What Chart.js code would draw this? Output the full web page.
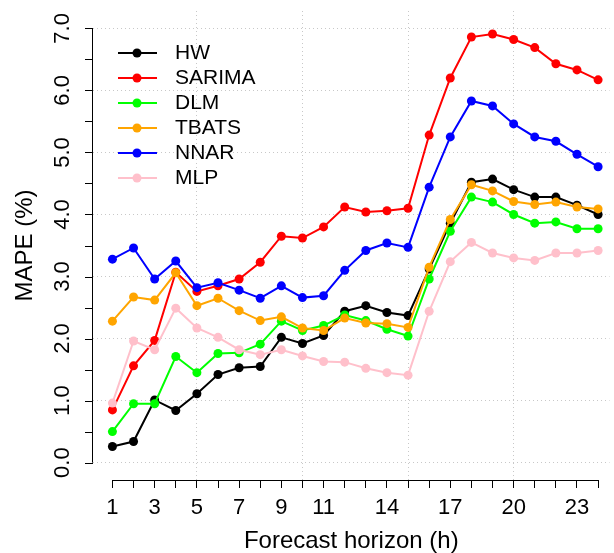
<!DOCTYPE html>
<html>
<head>
<meta charset="utf-8">
<script src="https://cdn.jsdelivr.net/npm/chart.js@4/dist/chart.umd.min.js"></script>
<style>
    body { margin: 0; background: #ffffff; }
</style>
</head>
<body>
<canvas id="mapeChart" width="614" height="553"></canvas>
<script>
"use strict";

// Data (MAPE in %, per forecast horizon)
const horizon = [1, 2, 3, 4, 5, 6, 7, 8, 9, 10, 11, 12, 13, 14, 15, 16, 17, 18, 19, 20, 21, 22, 23, 24];
const hw     = [0.26, 0.34, 1.01, 0.84, 1.11, 1.42, 1.53, 1.55, 2.02, 1.92, 2.05, 2.44, 2.53, 2.42, 2.37, 3.12, 3.86, 4.52, 4.57, 4.40, 4.28, 4.28, 4.15, 4.00];
const sarima = [0.85, 1.56, 1.97, 3.07, 2.76, 2.85, 2.96, 3.23, 3.65, 3.62, 3.80, 4.12, 4.04, 4.06, 4.10, 5.28, 6.20, 6.86, 6.91, 6.82, 6.69, 6.43, 6.33, 6.17];
const dlm    = [0.50, 0.95, 0.95, 1.71, 1.45, 1.76, 1.77, 1.91, 2.28, 2.13, 2.21, 2.38, 2.29, 2.15, 2.04, 2.96, 3.73, 4.28, 4.20, 4.00, 3.86, 3.88, 3.77, 3.77];
const tbats  = [2.28, 2.67, 2.62, 3.06, 2.53, 2.65, 2.45, 2.29, 2.35, 2.17, 2.13, 2.33, 2.25, 2.24, 2.18, 3.15, 3.92, 4.48, 4.38, 4.21, 4.16, 4.20, 4.12, 4.09];
const nnar   = [3.28, 3.46, 2.96, 3.25, 2.82, 2.90, 2.78, 2.65, 2.85, 2.66, 2.69, 3.10, 3.42, 3.54, 3.47, 4.44, 5.25, 5.83, 5.75, 5.46, 5.25, 5.18, 4.97, 4.77];
const mlp    = [0.96, 1.96, 1.82, 2.49, 2.17, 2.02, 1.82, 1.74, 1.82, 1.72, 1.63, 1.62, 1.52, 1.45, 1.41, 2.44, 3.24, 3.55, 3.38, 3.30, 3.26, 3.38, 3.38, 3.42];

const seriesNames  = ["HW", "SARIMA", "DLM", "TBATS", "NNAR", "MLP"];
const seriesColors = ["#000000", "#ff0000", "#00ff00", "#ffa500", "#0000ff", "#ffc0cb"];
const seriesValues = [hw, sarima, dlm, tbats, nnar, mlp];

const xTickLabels = ["1", "3", "5", "7", "9", "11", "14", "17", "20", "23"];
const yTickLabels = ["0.0", "1.0", "2.0", "3.0", "4.0", "5.0", "6.0", "7.0"];

const FONT = "'Liberation Sans', Arial, Helvetica, sans-serif";
const TICK_SIZE = 22;
const TITLE_SIZE = 24;
const LEGEND_SIZE = 21;

// Bygg dataset
const datasets = seriesNames.map((name, i) => ({
    label: name,
    data: horizon.map((h, j) => ({ x: h, y: seriesValues[i][j] })),
    borderColor: seriesColors[i],
    backgroundColor: seriesColors[i],
    borderWidth: 2,
    pointRadius: 4.5,
    pointBorderWidth: 0,
    pointHoverRadius: 4.5,
    tension: 0,
    order: seriesNames.length - i // senare serier ritas ovanpå
}));

// R-style axes: y axis with rotated labels, x axis line, legend
const baseAxes = {
    id: "baseAxes",
    afterDatasetsDraw(chart) {
        const c = chart.ctx;
        const x = chart.scales.x;
        const y = chart.scales.y;
        const left = chart.chartArea.left;
        const bottom = chart.chartArea.bottom;

        c.save();
        c.strokeStyle = "#000000";
        c.fillStyle = "#000000";
        c.lineWidth = 1;

        // x axis line
        c.beginPath();
        c.moveTo(x.getPixelForValue(horizon[0]), bottom + 0.5);
        c.lineTo(x.getPixelForValue(horizon[horizon.length - 1]), bottom + 0.5);
        c.stroke();

        // y axis line + ticks every 0.5
        const y0 = y.getPixelForValue(0);
        const y7 = y.getPixelForValue(7);
        c.beginPath();
        c.moveTo(left - 0.5, y0);
        c.lineTo(left - 0.5, y7);
        for (let v = 0; v <= 7; v += 0.5) {
            const py = Math.round(y.getPixelForValue(v)) + 0.5;
            c.moveTo(left, py);
            c.lineTo(left - 8, py);
        }
        c.stroke();

        // y tick labels, rotated
        c.font = TICK_SIZE + "px " + FONT;
        c.textAlign = "center";
        c.textBaseline = "middle";
        yTickLabels.forEach((lab, i) => {
            c.save();
            c.translate(63, y.getPixelForValue(i));
            c.rotate(-Math.PI / 2);
            c.fillText(lab, 0, 0);
            c.restore();
        });

        // y axis title
        c.font = TITLE_SIZE + "px " + FONT;
        c.save();
        c.translate(25, (y0 + y7) / 2);
        c.rotate(-Math.PI / 2);
        c.fillText("MAPE (%)", 0, 0);
        c.restore();

        // legend
        c.font = LEGEND_SIZE + "px " + FONT;
        c.textAlign = "left";
        seriesNames.forEach((name, i) => {
            const ly = 53 + 25 * i;
            c.strokeStyle = seriesColors[i];
            c.fillStyle = seriesColors[i];
            c.lineWidth = 2;
            c.beginPath();
            c.moveTo(118, ly);
            c.lineTo(157, ly);
            c.stroke();
            c.beginPath();
            c.arc(137, ly, 4.5, 0, Math.PI * 2);
            c.fill();
            c.fillStyle = "#000000";
            c.fillText(name, 175, ly);
        });
        c.restore();
    }
};

const ctx = document.getElementById("mapeChart");

new Chart(ctx, {
    type: "line",
    data: { datasets: datasets },
    plugins: [baseAxes],
    options: {
        responsive: false,
        animation: false,
        devicePixelRatio: 1,
        layout: { padding: { top: 11, right: 0, left: 0, bottom: 0 } },
        plugins: {
            legend: { display: false },
            tooltip: { enabled: false }
        },
        scales: {
            x: {
                type: "linear",
                min: 0.08,
                max: 24.54,
                afterBuildTicks: (scale) => {
                    scale.ticks = horizon.map(v => ({ value: v }));
                },
                afterFit: (scale) => { scale.height = 73; },
                ticks: {
                    autoSkip: false,
                    maxRotation: 0,
                    minRotation: 0,
                    padding: 7,
                    color: "#000000",
                    font: { family: FONT, size: TICK_SIZE },
                    callback: (value) => xTickLabels.includes(String(value)) ? String(value) : ""
                },
                grid: {
                    color: (c) => (c.tick && c.tick.value % 5 === 0) ? "#c8c8c8" : "rgba(0,0,0,0)",
                    lineWidth: 1,
                    drawTicks: true,
                    tickLength: 8,
                    tickColor: "#000000"
                },
                border: { display: false, dash: [1, 3] },
                title: {
                    display: true,
                    text: "Forecast horizon (h)",
                    color: "#000000",
                    font: { family: FONT, size: TITLE_SIZE, lineHeight: 1.0 },
                    padding: { top: 0, bottom: 0 }
                }
            },
            y: {
                type: "linear",
                min: -0.28,
                max: 7.28,
                afterBuildTicks: (scale) => {
                    scale.ticks = [0, 1, 2, 3, 4, 5, 6, 7].map(v => ({ value: v }));
                },
                afterFit: (scale) => { scale.width = 93; },
                ticks: { display: false },
                grid: {
                    color: "#c8c8c8",
                    lineWidth: 1,
                    drawTicks: false
                },
                border: { display: false, dash: [1, 3] }
            }
        }
    }
});
</script>
</body>
</html>
